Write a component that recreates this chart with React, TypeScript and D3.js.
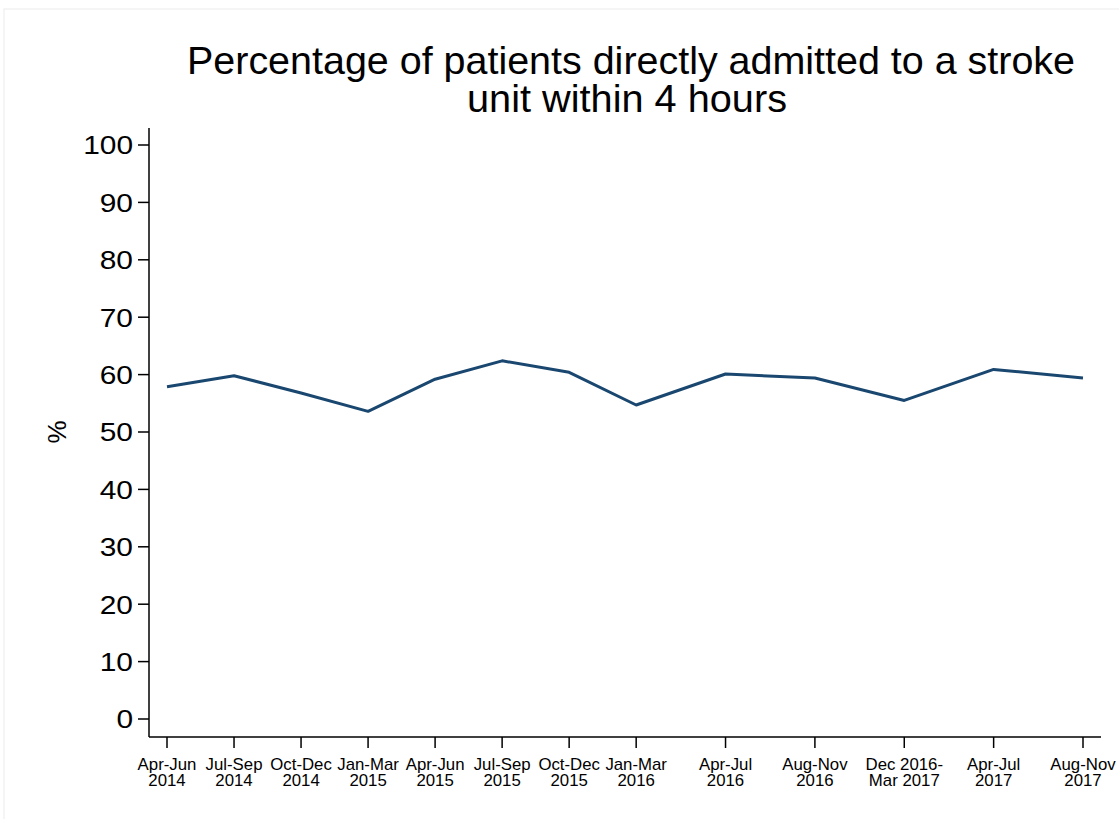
import React from "react";
import * as d3 from "d3";

// periods as two-line tick labels
const periodTop = ["Apr-Jun", "Jul-Sep", "Oct-Dec", "Jan-Mar", "Apr-Jun", "Jul-Sep", "Oct-Dec", "Jan-Mar", "Apr-Jul", "Aug-Nov", "Dec 2016-", "Apr-Jul", "Aug-Nov"];
const periodBottom = ["2014", "2014", "2014", "2015", "2015", "2015", "2015", "2016", "2016", "2016", "Mar 2017", "2017", "2017"];
// start month of each period, counted from Apr 2014
const periodMonth = [0, 3, 6, 9, 12, 15, 18, 21, 25, 29, 33, 37, 41];
const pctDirect = [57.9, 59.8, 56.8, 53.6, 59.2, 62.4, 60.4, 54.7, 60.1, 59.4, 55.5, 60.9, 59.4];
const yTicks = [0, 10, 20, 30, 40, 50, 60, 70, 80, 90, 100];

const font = "'Liberation Sans', Arial, Helvetica, sans-serif";

export default function App() {
  const x = d3.scaleLinear().domain([0, 41]).range([167, 1083]);
  const y = d3.scaleLinear().domain([0, 100]).range([719, 145]);

  const line = d3.line<number>()
    .x((d, i) => x(periodMonth[i]))
    .y(d => y(d));

  const axisLeft = 149;
  const axisBottom = 737;

  return (
    <svg width={1119} height={819} style={{ position: "absolute", left: 0, top: 0, background: "#fff" }} fontFamily={font}>
      <rect x={4} y={9} width={1130} height={830} fill="none" stroke="#ececec" strokeWidth={1} />

      {/* title */}
      <text x={631} y={74} fontSize={39} textAnchor="middle" textLength={888} lengthAdjust="spacingAndGlyphs">
        Percentage of patients directly admitted to a stroke
      </text>
      <text x={627} y={112} fontSize={39} textAnchor="middle" textLength={320} lengthAdjust="spacingAndGlyphs">
        unit within 4 hours
      </text>

      {/* y axis */}
      <line x1={axisLeft} x2={axisLeft} y1={128} y2={axisBottom} stroke="#000" strokeWidth={1.5} />
      {yTicks.map(t => (
        <g key={t}>
          <line x1={138} x2={axisLeft} y1={y(t)} y2={y(t)} stroke="#000" strokeWidth={1.5} />
          <text transform={`translate(133,${y(t)}) scale(1.15,1)`} dy="0.36em" fontSize={26} textAnchor="end">{t}</text>
        </g>
      ))}
      <text transform={`translate(66,432) rotate(-90)`} fontSize={26} textAnchor="middle">%</text>

      {/* x axis */}
      <line x1={axisLeft} x2={1101} y1={axisBottom} y2={axisBottom} stroke="#000" strokeWidth={1.5} />
      {periodMonth.map((m, i) => (
        <g key={i}>
          <line x1={x(m)} x2={x(m)} y1={axisBottom} y2={748} stroke="#000" strokeWidth={1.5} />
          <g transform={`translate(${x(m)},0) scale(1.05,1)`}>
            <text x={0} y={770} fontSize={16} textAnchor="middle">{periodTop[i]}</text>
            <text x={0} y={786} fontSize={16} textAnchor="middle">{periodBottom[i]}</text>
          </g>
        </g>
      ))}

      <path d={line(pctDirect) ?? ""} fill="none" stroke="#1a476f" strokeWidth={3} strokeLinejoin="round" />
    </svg>
  );
}
